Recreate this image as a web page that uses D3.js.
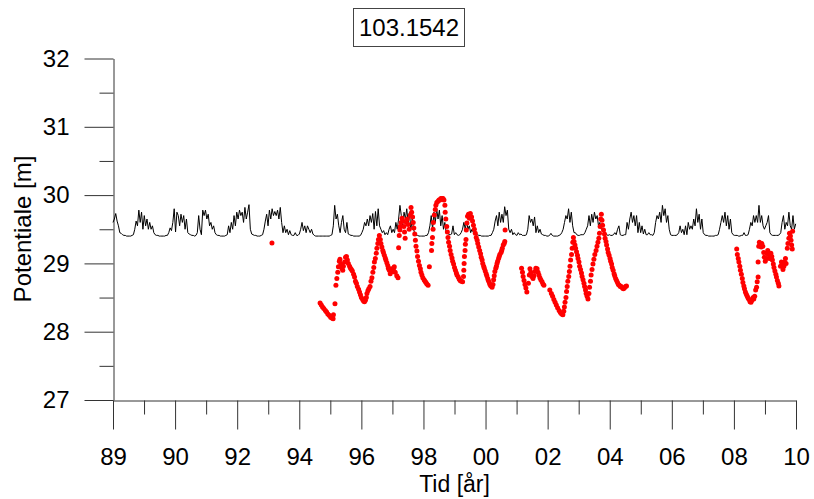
<!DOCTYPE html>
<html>
<head>
<meta charset="utf-8">
<script src="https://cdn.jsdelivr.net/npm/d3@7"></script>
<style>
  html, body { margin: 0; padding: 0; background: #fff; }
  svg { display: block; font-family: "Liberation Sans", Arial, sans-serif; }
</style>
</head>
<body>
<svg id="chart" width="814" height="499"></svg>
<script>
// ---------------- DATA ----------------
const chartTitle = "103.1542";
const xLabel = "Tid [år]";
const yLabel = "Potentiale [m]";

const xTickValues = [1988, 1990, 1992, 1994, 1996, 1998, 2000, 2002, 2004, 2006, 2008, 2010];
const xTickLabels = ["89", "90", "92", "94", "96", "98", "00", "02", "04", "06", "08", "10"];
const xMinorTicks = [1989, 1991, 1993, 1995, 1997, 1999, 2001, 2003, 2005, 2007, 2009];
const yTickValues = [27, 28, 29, 30, 31, 32];
const yMinorTicks = [27.5, 28.5, 29.5, 30.5, 31.5];

// simulated potential, one value every 16 days from 1988-01-01
const simStart = 1988;
const simStepDays = 16;
const simulated = [
  29.60,29.65,29.73,29.62,29.55,29.45,29.44,29.42,29.41,29.41,29.40,29.40,29.40,29.40,29.41,29.42,29.50,29.62,29.55,29.78,29.60,29.75,29.50,29.70,
  29.55,29.65,29.50,29.60,29.50,29.55,29.45,29.42,29.41,29.41,29.40,29.40,29.40,29.40,29.40,29.41,29.41,29.45,29.52,29.48,29.60,29.80,29.46,29.75,
  29.70,29.55,29.72,29.60,29.70,29.50,29.65,29.45,29.43,29.42,29.41,29.41,29.40,29.41,29.45,29.70,29.50,29.42,29.78,29.70,29.78,29.65,29.72,29.55,
  29.60,29.50,29.55,29.45,29.42,29.41,29.41,29.40,29.40,29.40,29.40,29.41,29.42,29.55,29.45,29.60,29.50,29.70,29.55,29.75,29.65,29.78,29.70,29.75,
  29.60,29.82,29.65,29.75,29.86,29.50,29.43,29.42,29.41,29.41,29.40,29.40,29.40,29.41,29.42,29.50,29.62,29.72,29.55,29.78,29.65,29.80,29.70,29.76,
  29.70,29.78,29.65,29.82,29.60,29.45,29.55,29.45,29.50,29.42,29.48,29.42,29.41,29.41,29.45,29.41,29.41,29.43,29.50,29.60,29.48,29.55,29.45,29.55,
  29.50,29.45,29.50,29.43,29.41,29.40,29.40,29.40,29.40,29.40,29.40,29.40,29.40,29.40,29.40,29.40,29.41,29.42,29.55,29.85,29.65,29.72,29.55,29.45,
  29.60,29.70,29.50,29.45,29.60,29.43,29.42,29.41,29.41,29.40,29.40,29.40,29.40,29.40,29.41,29.45,29.50,29.60,29.55,29.65,29.55,29.70,29.60,29.73,
  29.50,29.76,29.55,29.80,29.55,29.50,29.45,29.48,29.42,29.45,29.42,29.50,29.55,29.45,29.50,29.45,29.60,29.50,29.65,29.85,29.70,29.55,29.75,29.65,
  29.80,29.60,29.75,29.50,29.65,29.50,29.43,29.41,29.41,29.40,29.40,29.40,29.40,29.40,29.41,29.41,29.45,29.55,29.70,29.50,29.75,29.60,29.80,29.65,
  29.78,29.55,29.70,29.50,29.60,29.45,29.45,29.42,29.42,29.43,29.55,29.42,29.45,29.42,29.41,29.42,29.45,29.50,29.60,29.50,29.62,29.50,29.55,29.45,
  29.50,29.45,29.48,29.43,29.42,29.41,29.41,29.40,29.40,29.40,29.40,29.40,29.40,29.41,29.41,29.45,29.50,29.62,29.70,29.55,29.75,29.60,29.72,29.60,
  29.83,29.70,29.78,29.50,29.45,29.50,29.42,29.45,29.42,29.41,29.45,29.42,29.43,29.41,29.41,29.41,29.42,29.50,29.70,29.60,29.65,29.55,29.68,29.45,
  29.55,29.45,29.50,29.43,29.42,29.41,29.41,29.40,29.40,29.41,29.44,29.41,29.40,29.40,29.40,29.40,29.41,29.42,29.45,29.50,29.60,29.70,29.65,29.80,
  29.60,29.75,29.55,29.45,29.45,29.42,29.41,29.41,29.42,29.42,29.42,29.45,29.50,29.55,29.70,29.55,29.72,29.60,29.75,29.65,29.70,29.55,29.60,29.50,
  29.50,29.43,29.45,29.42,29.41,29.42,29.41,29.41,29.42,29.45,29.42,29.50,29.55,29.42,29.41,29.41,29.42,29.42,29.60,29.50,29.65,29.75,29.60,29.70,
  29.55,29.70,29.45,29.60,29.45,29.55,29.43,29.50,29.42,29.42,29.45,29.42,29.42,29.41,29.45,29.60,29.70,29.65,29.75,29.60,29.85,29.70,29.80,29.60,
  29.70,29.50,29.42,29.41,29.41,29.41,29.41,29.42,29.45,29.55,29.45,29.50,29.42,29.55,29.42,29.60,29.50,29.55,29.50,29.65,29.55,29.80,29.60,29.72,
  29.50,29.65,29.45,29.42,29.41,29.41,29.40,29.40,29.40,29.40,29.40,29.41,29.41,29.42,29.50,29.60,29.70,29.60,29.75,29.55,29.70,29.50,29.65,29.45,
  29.42,29.41,29.41,29.41,29.40,29.40,29.41,29.41,29.45,29.41,29.41,29.42,29.50,29.60,29.55,29.70,29.60,29.70,29.60,29.85,29.60,29.70,29.55,29.50,
  29.55,29.60,29.70,29.45,29.42,29.41,29.41,29.41,29.41,29.41,29.42,29.45,29.60,29.70,29.50,29.60,29.55,29.75,29.55,29.50,29.70,29.50,29.58
];

// observed potential: [decimal year, metres]
const observed = [
  [1993.12,29.30],
  [1994.67,28.42],[1994.71,28.39],[1994.75,28.36],[1994.79,28.34],[1994.84,28.31],[1994.88,28.29],[1994.92,28.26],[1994.96,28.24],[1995.01,28.21],[1995.05,28.20],[1995.09,28.19],[1995.10,28.25],[1995.15,28.41],[1995.18,28.68],[1995.21,28.78],[1995.24,28.87],[1995.26,28.95],[1995.29,29.03],[1995.31,29.06],[1995.34,28.99],[1995.37,28.93],[1995.40,28.90],[1995.42,28.96],[1995.46,29.02],[1995.49,29.09],[1995.52,29.10],[1995.55,29.05],[1995.58,29.00],[1995.62,28.96],[1995.65,28.93],[1995.68,28.91],[1995.71,28.89],[1995.75,28.84],[1995.78,28.80],[1995.81,28.74],[1995.84,28.71],[1995.87,28.66],[1995.91,28.62],[1995.94,28.58],[1995.97,28.54],[1996.00,28.50],[1996.04,28.47],[1996.07,28.45],[1996.10,28.44],[1996.13,28.46],
  [1996.16,28.50],[1996.18,28.56],[1996.21,28.60],[1996.24,28.63],[1996.28,28.66],[1996.31,28.74],[1996.34,28.79],[1996.37,28.87],[1996.40,28.94],[1996.42,29.02],[1996.45,29.07],[1996.48,29.15],[1996.50,29.22],[1996.53,29.29],[1996.55,29.35],[1996.58,29.41],
  [1996.61,29.35],[1996.63,29.29],[1996.66,29.24],[1996.69,29.19],[1996.71,29.16],[1996.74,29.12],[1996.77,29.08],[1996.79,29.05],[1996.82,29.01],[1996.85,28.97],[1996.87,28.93],[1996.90,28.90],[1996.93,28.85],[1996.95,28.92],[1996.99,28.90],[1997.01,28.88],[1997.04,28.93],[1997.06,28.95],[1997.09,28.87],[1997.14,28.82],[1997.18,28.79],[1997.20,29.23],
  [1997.22,29.41],[1997.24,29.49],[1997.25,29.54],[1997.28,29.60],[1997.31,29.66],[1997.34,29.62],[1997.37,29.54],[1997.39,29.46],[1997.41,29.37],[1997.45,29.60],[1997.48,29.65],[1997.51,29.57],[1997.54,29.50],[1997.58,29.71],[1997.60,29.82],[1997.62,29.75],[1997.65,29.68],[1997.67,29.60],[1997.69,29.52],[1997.72,29.43],[1997.74,29.34],[1997.76,29.25],[1997.79,29.18],[1997.81,29.10],[1997.84,29.03],[1997.87,28.97],[1997.90,28.92],[1997.92,28.87],[1997.95,28.83],[1997.98,28.79],[1998.02,28.76],[1998.05,28.74],[1998.08,28.72],[1998.11,28.70],[1998.15,28.68],[1998.19,28.95],
  [1998.26,29.19],[1998.27,29.29],[1998.29,29.38],[1998.31,29.50],[1998.32,29.60],[1998.35,29.71],[1998.38,29.79],[1998.40,29.85],[1998.43,29.89],[1998.47,29.91],[1998.50,29.93],[1998.53,29.93],[1998.56,29.95],[1998.60,29.95],[1998.63,29.95],[1998.66,29.93],[1998.69,29.85],[1998.70,29.75],[1998.72,29.65],[1998.75,29.54],[1998.77,29.46],[1998.79,29.38],[1998.81,29.31],[1998.84,29.25],[1998.86,29.19],[1998.89,29.13],[1998.92,29.08],[1998.94,29.03],[1998.97,28.99],[1999.00,28.94],[1999.03,28.90],[1999.06,28.86],[1999.08,28.83],[1999.12,28.80],[1999.15,28.77],[1999.18,28.75],[1999.22,28.74],[1999.26,28.73],
  [1999.29,28.81],[1999.30,28.90],[1999.31,29.00],[1999.32,29.10],[1999.34,29.19],[1999.35,29.28],[1999.37,29.35],
  [1999.38,29.49],[1999.40,29.59],[1999.42,29.69],[1999.45,29.72],[1999.48,29.66],[1999.51,29.73],[1999.55,29.68],[1999.58,29.62],[1999.61,29.56],[1999.64,29.50],[1999.67,29.44],
  [1999.70,29.38],[1999.73,29.34],[1999.75,29.29],[1999.78,29.24],[1999.81,29.19],[1999.84,29.14],[1999.86,29.09],[1999.89,29.05],[1999.91,29.00],[1999.94,28.96],[1999.96,28.93],[1999.99,28.89],[2000.02,28.85],[2000.04,28.82],[2000.07,28.78],[2000.09,28.75],[2000.12,28.72],[2000.14,28.69],[2000.17,28.67],[2000.21,28.65],
  [2000.24,28.69],[2000.26,28.76],[2000.28,28.82],[2000.30,28.88],[2000.33,28.93],[2000.35,28.96],[2000.37,29.00],[2000.39,29.03],[2000.42,29.07],[2000.44,29.10],[2000.46,29.13],[2000.50,29.16],[2000.52,29.19],[2000.54,29.22],[2000.57,29.27],[2000.60,29.29],[2000.62,29.32],[2000.63,29.49],
  [2001.16,28.93],[2001.19,28.87],[2001.21,28.81],[2001.24,28.75],[2001.27,28.69],[2001.30,28.64],[2001.33,28.58],[2001.38,28.71],[2001.41,28.83],[2001.43,28.92],[2001.46,28.87],[2001.49,28.81],[2001.53,28.78],[2001.56,28.82],[2001.59,28.88],[2001.62,28.93],[2001.66,28.92],[2001.69,28.87],[2001.72,28.83],[2001.75,28.79],[2001.78,28.76],[2001.82,28.73],[2001.85,28.70],[2001.88,28.68],
  [2002.07,28.61],[2002.12,28.56],[2002.16,28.52],[2002.20,28.47],[2002.24,28.43],[2002.28,28.39],[2002.32,28.35],[2002.37,28.31],[2002.41,28.28],[2002.45,28.26],[2002.49,28.25],[2002.52,28.30],[2002.54,28.36],[2002.56,28.43],[2002.59,28.50],[2002.61,28.59],[2002.63,28.66],[2002.65,28.74],[2002.68,28.81],[2002.70,28.88],[2002.72,28.96],[2002.74,29.05],[2002.77,29.13],[2002.79,29.22],[2002.81,29.31],[2002.83,29.38],
  [2002.85,29.32],[2002.88,29.27],[2002.90,29.22],[2002.93,29.17],[2002.96,29.12],[2002.98,29.07],[2003.01,29.02],[2003.03,28.96],[2003.06,28.91],[2003.09,28.86],[2003.11,28.81],[2003.14,28.76],[2003.17,28.71],[2003.19,28.66],[2003.22,28.61],[2003.24,28.56],[2003.27,28.52],[2003.30,28.48],
  [2003.33,28.56],[2003.35,28.65],[2003.38,28.74],[2003.40,28.83],[2003.43,28.91],[2003.46,28.99],[2003.49,29.06],[2003.52,29.13],[2003.56,29.19],[2003.59,29.25],[2003.62,29.31],[2003.65,29.37],[2003.67,29.44],[2003.69,29.54],[2003.71,29.65],[2003.73,29.72],
  [2003.75,29.63],[2003.77,29.56],[2003.80,29.49],[2003.83,29.43],[2003.85,29.37],[2003.88,29.32],[2003.90,29.27],[2003.93,29.21],[2003.95,29.16],[2003.98,29.12],[2004.01,29.07],[2004.03,29.03],[2004.06,28.99],[2004.08,28.94],[2004.11,28.90],[2004.14,28.85],[2004.16,28.82],[2004.19,28.78],[2004.22,28.75],[2004.25,28.72],[2004.28,28.69],[2004.31,28.68],[2004.34,28.66],[2004.37,28.66],[2004.41,28.64],[2004.44,28.63],[2004.47,28.64],[2004.51,28.66],[2004.54,28.67],
  [2008.09,29.21],[2008.11,29.13],[2008.14,29.07],[2008.16,29.02],[2008.19,28.96],[2008.21,28.90],[2008.24,28.84],[2008.27,28.78],[2008.29,28.72],[2008.32,28.67],[2008.34,28.63],[2008.37,28.58],[2008.40,28.55],[2008.43,28.52],[2008.46,28.49],[2008.49,28.47],[2008.52,28.44],[2008.55,28.43],[2008.58,28.46],[2008.62,28.50],[2008.64,28.48],[2008.67,28.52],[2008.70,28.61],[2008.73,28.65],[2008.75,28.73],[2008.78,28.80],[2008.78,29.02],
  [2008.80,29.25],[2008.82,29.31],[2008.85,29.28],[2008.88,29.24],[2008.90,29.29],[2008.93,29.25],[2008.96,29.16],[2008.98,29.09],[2009.01,29.03],[2009.04,29.07],[2009.06,29.15],[2009.09,29.19],[2009.11,29.13],[2009.14,29.07],[2009.16,29.09],[2009.19,29.15],[2009.22,29.10],[2009.24,29.05],[2009.27,28.99],[2009.29,28.94],[2009.32,28.89],[2009.35,28.84],[2009.37,28.80],[2009.40,28.75],[2009.43,28.71],[2009.45,28.67],
  [2009.50,28.96],[2009.53,29.02],[2009.55,28.97],[2009.58,28.91],[2009.61,28.96],[2009.63,29.02],[2009.66,29.07],[2009.68,29.00],
  [2009.72,29.22],[2009.74,29.29],[2009.77,29.37],[2009.79,29.44],[2009.82,29.40],[2009.84,29.34],[2009.86,29.27],[2009.88,29.21],[2009.89,29.47]
];

// ---------------- CHART ----------------
const svg = d3.select("#chart");
const axisColor = "#333";
const fontSize = 24;

const x = d3.scaleLinear().domain([1988, 2010]).range([113, 796]);
const y = d3.scaleLinear().domain([27, 32]).range([400, 58.5]);

svg.append("rect").attr("width", 814).attr("height", 499).attr("fill", "#fff");

// Y axis major
svg.append("g").attr("transform", "translate(113.5,0)")
  .call(d3.axisLeft(y).tickValues(yTickValues).tickSize(29).tickSizeOuter(0).tickPadding(15)
    .tickFormat(d3.format("d")));
// Y axis minor
svg.append("g").attr("transform", "translate(113.5,0)")
  .call(d3.axisLeft(y).tickValues(yMinorTicks).tickSize(14).tickFormat(""))
  .call(g => g.select(".domain").remove());

// X axis major
svg.append("g").attr("transform", "translate(0,400.5)")
  .call(d3.axisBottom(x).tickValues(xTickValues).tickSize(29).tickSizeOuter(0).tickPadding(18)
    .tickFormat((d, i) => xTickLabels[i]));
// X axis minor
svg.append("g").attr("transform", "translate(0,400.5)")
  .call(d3.axisBottom(x).tickValues(xMinorTicks).tickSize(14).tickFormat(""))
  .call(g => g.select(".domain").remove());

svg.selectAll(".domain, .tick line").attr("stroke", axisColor).attr("stroke-width", 1);
svg.selectAll(".tick text").attr("font-size", fontSize).attr("fill", "#000")
  .attr("font-family", "'Liberation Sans', Arial, sans-serif");

// Simulated line
const simPoints = simulated.map((v, i) => [simStart + i * simStepDays / 365.25, v]);
svg.append("path")
  .datum(simPoints)
  .attr("fill", "none")
  .attr("stroke", "#000")
  .attr("stroke-width", 1)
  .attr("stroke-linejoin", "round")
  .attr("d", d3.line().x(d => x(d[0])).y(d => y(d[1])));

// Observed dots
svg.append("g").selectAll("circle")
  .data(observed)
  .join("circle")
  .attr("cx", d => x(d[0]))
  .attr("cy", d => y(d[1]))
  .attr("r", 2.5)
  .attr("fill", "#ff0000");

// Axis titles
svg.append("text")
  .attr("x", 454.5).attr("y", 492)
  .attr("text-anchor", "middle")
  .attr("font-size", 23)
  .text(xLabel);

svg.append("text")
  .attr("transform", "translate(31,229) rotate(-90)")
  .attr("text-anchor", "middle")
  .attr("font-size", 24)
  .text(yLabel);

// Title box
svg.append("rect")
  .attr("x", 353.5).attr("y", 8.5).attr("width", 111).attr("height", 38)
  .attr("fill", "#fff").attr("stroke", "#444").attr("stroke-width", 1);
svg.append("text")
  .attr("x", 409).attr("y", 36)
  .attr("text-anchor", "middle")
  .attr("font-size", 24)
  .text(chartTitle);
</script>
</body>
</html>
